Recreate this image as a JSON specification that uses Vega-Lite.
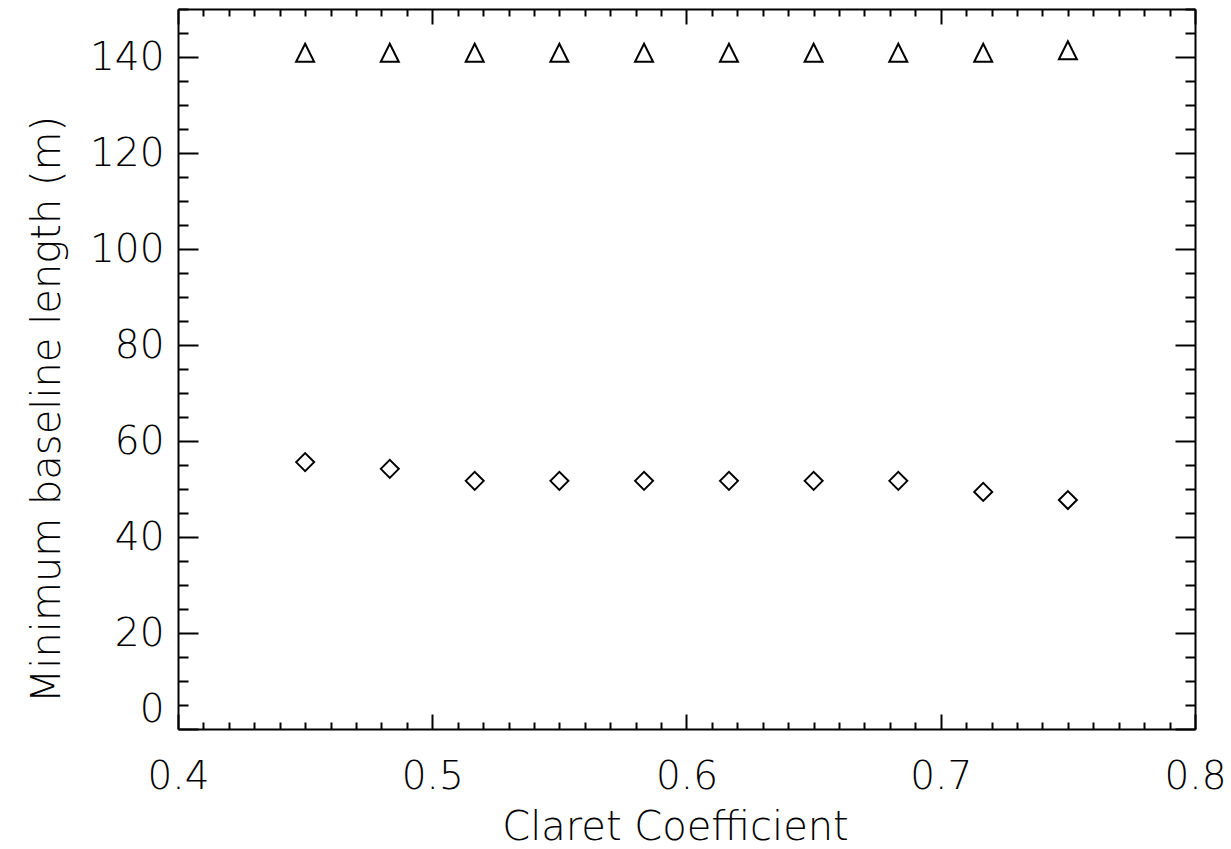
{
  "$schema": "https://vega.github.io/schema/vega-lite/v6.json",
  "width": 1017,
  "height": 720,
  "autosize": {"type": "none"},
  "padding": {"left": 178, "top": 9, "right": 36, "bottom": 120},
  "background": "white",
  "config": {
    "view": {"stroke": null},
    "axis": {
      "grid": false,
      "domainColor": "black",
      "domainWidth": 2,
      "tickColor": "black",
      "tickWidth": 2,
      "labelFont": "DejaVu Sans",
      "labelFontWeight": 200,
      "labelFontSize": 39,
      "labelColor": "black",
      "titleFont": "DejaVu Sans",
      "titleFontWeight": 200,
      "titleFontSize": 40,
      "titleColor": "black",
      "labelOverlap": false
    }
  },
  "datasets": {
    "pts": [
      {"claret": 0.45, "baseline": 140.9, "series": "upper"},
      {"claret": 0.4833, "baseline": 140.9, "series": "upper"},
      {"claret": 0.5167, "baseline": 140.9, "series": "upper"},
      {"claret": 0.55, "baseline": 140.9, "series": "upper"},
      {"claret": 0.5833, "baseline": 140.9, "series": "upper"},
      {"claret": 0.6167, "baseline": 140.9, "series": "upper"},
      {"claret": 0.65, "baseline": 140.9, "series": "upper"},
      {"claret": 0.6833, "baseline": 140.9, "series": "upper"},
      {"claret": 0.7167, "baseline": 140.9, "series": "upper"},
      {"claret": 0.75, "baseline": 141.4, "series": "upper"},
      {"claret": 0.45, "baseline": 55.6, "series": "lower"},
      {"claret": 0.4833, "baseline": 54.2, "series": "lower"},
      {"claret": 0.5167, "baseline": 51.7, "series": "lower"},
      {"claret": 0.55, "baseline": 51.7, "series": "lower"},
      {"claret": 0.5833, "baseline": 51.7, "series": "lower"},
      {"claret": 0.6167, "baseline": 51.7, "series": "lower"},
      {"claret": 0.65, "baseline": 51.7, "series": "lower"},
      {"claret": 0.6833, "baseline": 51.7, "series": "lower"},
      {"claret": 0.7167, "baseline": 49.4, "series": "lower"},
      {"claret": 0.75, "baseline": 47.7, "series": "lower"}
    ]
  },
  "data": {"name": "pts"},
  "resolve": {"axis": {"x": "independent", "y": "independent"}},
  "layer": [
    {
      "transform": [{"filter": "datum.series === 'lower'"}],
      "mark": {"type": "point", "shape": "diamond", "size": 324, "strokeWidth": 2, "color": "black", "filled": false, "opacity": 1},
      "encoding": {
        "x": {
          "field": "claret", "type": "quantitative",
          "scale": {"domain": [0.4, 0.8], "nice": false, "zero": false},
          "axis": {
            "orient": "bottom",
            "title": "Claret Coefficient",
            "titleX": 497,
            "titleY": 110,
            "titleBaseline": "alphabetic",
            "titleAlign": "center",
            "values": [0.40,0.41,0.42,0.43,0.44,0.45,0.46,0.47,0.48,0.49,0.50,0.51,0.52,0.53,0.54,0.55,0.56,0.57,0.58,0.59,0.60,0.61,0.62,0.63,0.64,0.65,0.66,0.67,0.68,0.69,0.70,0.71,0.72,0.73,0.74,0.75,0.76,0.77,0.78,0.79,0.80],
            "labelExpr": "abs(datum.value*10 - round(datum.value*10)) < 1e-6 ? format(datum.value, '.1f') : ''",
            "tickSize": {"condition": {"test": "abs(datum.value*10 - round(datum.value*10)) < 1e-6", "value": -15}, "value": -7},
            "labelPadding": 43,
            "labelFlush": false
          }
        },
        "y": {
          "field": "baseline", "type": "quantitative",
          "scale": {"domain": [0, 150], "nice": false, "zero": true},
          "axis": {
            "orient": "left",
            "title": "Minimum baseline length (m)",
            "titleX": -119,
            "titleY": 400,
            "titleAngle": -90,
            "titleBaseline": "alphabetic",
            "titleAlign": "center",
            "values": [0,5,10,15,20,25,30,35,40,45,50,55,60,65,70,75,80,85,90,95,100,105,110,115,120,125,130,135,140,145,150],
            "labelExpr": "datum.value % 20 === 0 ? format(datum.value, 'd') : ''",
            "tickSize": {"condition": {"test": "datum.value % 20 === 0", "value": -20}, "value": -10},
            "labelPadding": 34,
            "labelFlush": true,
            "labelFlushOffset": 0
          }
        }
      }
    },
    {
      "transform": [{"filter": "datum.series === 'upper'"}],
      "mark": {"type": "point", "shape": "M0,-1L1,1L-1,1Z", "size": 324, "strokeWidth": 2, "color": "black", "filled": false, "opacity": 1},
      "encoding": {
        "x": {
          "field": "claret", "type": "quantitative",
          "scale": {"domain": [0.4, 0.8], "nice": false, "zero": false},
          "axis": {
            "orient": "top",
            "title": null,
            "labels": false,
            "values": [0.40,0.41,0.42,0.43,0.44,0.45,0.46,0.47,0.48,0.49,0.50,0.51,0.52,0.53,0.54,0.55,0.56,0.57,0.58,0.59,0.60,0.61,0.62,0.63,0.64,0.65,0.66,0.67,0.68,0.69,0.70,0.71,0.72,0.73,0.74,0.75,0.76,0.77,0.78,0.79,0.80],
            "tickSize": {"condition": {"test": "abs(datum.value*10 - round(datum.value*10)) < 1e-6", "value": -15}, "value": -7}
          }
        },
        "y": {
          "field": "baseline", "type": "quantitative",
          "scale": {"domain": [0, 150], "nice": false, "zero": true},
          "axis": {
            "orient": "right",
            "title": null,
            "labels": false,
            "values": [0,5,10,15,20,25,30,35,40,45,50,55,60,65,70,75,80,85,90,95,100,105,110,115,120,125,130,135,140,145,150],
            "tickSize": {"condition": {"test": "datum.value % 20 === 0", "value": -20}, "value": -10}
          }
        }
      }
    }
  ]
}
